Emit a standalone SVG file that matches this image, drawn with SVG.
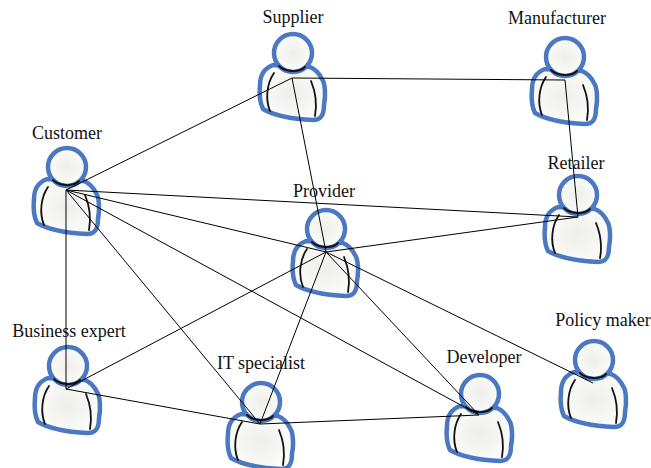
<svg xmlns="http://www.w3.org/2000/svg" xmlns:xlink="http://www.w3.org/1999/xlink" width="651" height="468" viewBox="0 0 651 468">
<style>
text{font-family:"Liberation Serif","Times New Roman",serif;font-size:18px;fill:#111;text-anchor:middle}
.o{stroke:#4a78c2;stroke-width:4.5;stroke-linejoin:round}
.i{fill:none;stroke:#111;stroke-width:1.8;stroke-linecap:round}
#conn line{stroke:#000;stroke-width:1}
</style>
<defs>
<radialGradient id="g"><stop offset="0" stop-color="#eeeeea"/><stop offset="1" stop-color="#fbfbf9"/></radialGradient>
<g id="p">
<path class="o" fill="url(#g)" d="M-20,12C-28,15 -33,22 -33,32C-34,42 -33,50 -30,56C-20,62 0,66 20,67C28,67 31,62 31,52C33,42 32,30 29,26C26,20 22,16 17,14Z"/>
<circle class="o" fill="url(#g)" cx="0" cy="0" r="19"/>
<path class="i" d="M-14,13C-8,19 6,20 12,14"/>
<path class="i" d="M-19,20C-26,30 -28,46 -23,58"/>
<path class="i" d="M18,28C23,40 24,52 22,63"/>
</g>
</defs>
<g id="supplier"><use href="#p" x="293" y="53"/><text x="293" y="23">Supplier</text></g>
<g id="manufacturer"><use href="#p" x="565" y="57"/><text x="557" y="24">Manufacturer</text></g>
<g id="customer"><use href="#p" x="67" y="167"/><text x="67" y="139">Customer</text></g>
<g id="retailer"><use href="#p" x="578" y="195"/><text x="576" y="169">Retailer</text></g>
<g id="provider"><use href="#p" x="326" y="229"/><text x="324" y="197">Provider</text></g>
<g id="business-expert"><use href="#p" x="68" y="366"/><text x="69" y="337">Business expert</text></g>
<g id="it-specialist"><use href="#p" x="261" y="402"/><text x="261" y="369">IT specialist</text></g>
<g id="developer"><use href="#p" x="480" y="394"/><text x="484" y="363">Developer</text></g>
<g id="policy-maker"><use href="#p" x="594" y="360"/><text x="603" y="326">Policy maker</text></g>
<g id="conn">
<line x1="66" y1="190" x2="292" y2="78"/>
<line x1="292" y1="78" x2="565" y2="80"/>
<line x1="292" y1="78" x2="326" y2="252"/>
<line x1="565" y1="80" x2="578" y2="217"/>
<line x1="66" y1="190" x2="578" y2="217"/>
<line x1="66" y1="190" x2="326" y2="252"/>
<line x1="66" y1="190" x2="66" y2="389"/>
<line x1="66" y1="190" x2="260" y2="424"/>
<line x1="66" y1="190" x2="479" y2="415"/>
<line x1="326" y1="252" x2="578" y2="217"/>
<line x1="326" y1="252" x2="66" y2="389"/>
<line x1="326" y1="252" x2="260" y2="424"/>
<line x1="326" y1="252" x2="479" y2="415"/>
<line x1="326" y1="252" x2="593" y2="383"/>
<line x1="66" y1="389" x2="260" y2="424"/>
<line x1="260" y1="424" x2="479" y2="415"/>
</g>
</svg>
